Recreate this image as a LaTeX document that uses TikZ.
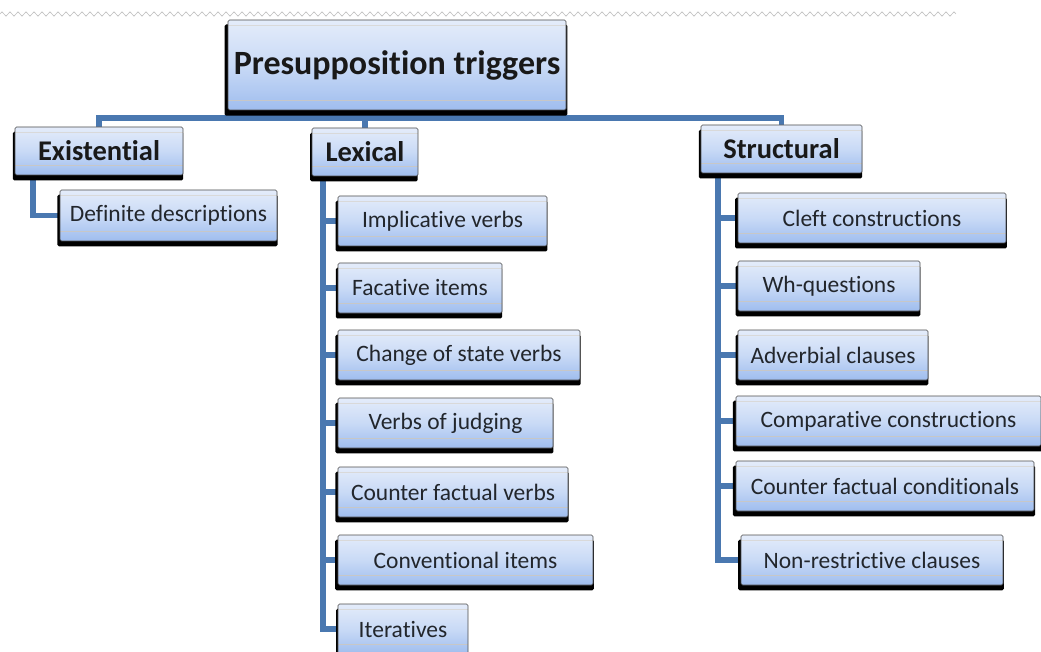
\documentclass[tikz,border=0pt]{standalone}
\usepackage{fontspec}
\setmainfont{Carlito}[Ligatures=NoCommon]
\usetikzlibrary{shadows,decorations.pathmorphing,backgrounds}
\definecolor{connc}{HTML}{4A78B0}
\definecolor{boxtop}{HTML}{E4ECFA}
\definecolor{boxmid}{HTML}{C9DAF6}
\definecolor{boxbot}{HTML}{9FBDEE}
\definecolor{txt}{HTML}{22262C}
\tikzset{
  box/.style={draw=black!70, line width=0.6pt, rounded corners=1.5pt, inner sep=0pt,
    top color=boxtop, bottom color=boxbot, middle color=boxmid,
    general shadow={shadow xshift=-1pt, shadow yshift=-5pt, shadow scale=1.014, fill=black},
    text=txt, font=\fontsize{23.5}{25}\selectfont,
    path picture={
      \draw[white!70!gray, line width=0.5pt] ([yshift=-5pt]path picture bounding box.north west) -- ([yshift=-5pt]path picture bounding box.north east);
      \draw[black!22, line width=0.5pt] ([yshift=10pt]path picture bounding box.south west) -- ([yshift=10pt]path picture bounding box.south east);
    }},
  catbox/.style={box, font=\bfseries\fontsize{28.5}{30}\selectfont, text=black!90},
  titlebox/.style={box, font=\bfseries\fontsize{34}{36}\selectfont, text=black!90},
  conn/.style={draw=connc, line width=5.5pt, line join=miter},
  zig/.style={draw=black!25, line width=0.6pt, decorate, decoration={zigzag, segment length=8pt, amplitude=2.2pt}}
}
\begin{document}
\begin{tikzpicture}[x=1pt,y=-1pt]
\useasboundingbox (0,0) rectangle (1041,652);
\coordinate (zigL) at (0,14);
\coordinate (zigR) at (956,14);
\draw[zig] (zigL) -- (zigR);
% nodes
\node[titlebox, minimum width=338pt, minimum height=90pt] (title) at (397,65) {Presupposition triggers};
\node[catbox, minimum width=168pt, minimum height=48pt] (exi) at (99,151) {Existential};
\node[catbox, minimum width=106pt, minimum height=48pt] (lex) at (365,152) {Lexical};
\node[catbox, minimum width=161pt, minimum height=48pt] (str) at (781.5,149) {Structural};
\node[box, minimum width=217pt, minimum height=51pt] (def) at (168.5,215.5) {Definite descriptions};
% lexical
\node[box, minimum width=209pt, minimum height=50pt] (imp) at (442.5,221) {Implicative verbs};
\node[box, minimum width=164pt, minimum height=50pt] (fac) at (420,288) {Facative items};
\node[box, minimum width=242pt, minimum height=50pt] (chg) at (459,355) {Change of state verbs};
\node[box, minimum width=215pt, minimum height=50pt] (jud) at (445.5,423) {Verbs of judging};
\node[box, minimum width=230pt, minimum height=50pt] (cfv) at (453,492) {Counter factual verbs};
\node[box, minimum width=255pt, minimum height=50pt] (con) at (465.5,560) {Conventional items};
\node[box, minimum width=130pt, minimum height=50pt] (itr) at (403,629) {Iteratives};
% structural
\node[box, minimum width=268pt, minimum height=50pt] (cle) at (872,218) {Cleft constructions};
\node[box, minimum width=182pt, minimum height=50pt] (wh) at (829,286) {Wh-questions};
\node[box, minimum width=190pt, minimum height=50pt] (adv) at (833,355) {Adverbial clauses};
\node[box, minimum width=305pt, minimum height=50pt] (cmp) at (888.5,421) {Comparative constructions};
\node[box, minimum width=298pt, minimum height=50pt] (cfc) at (885,486) {Counter factual conditionals};
\node[box, minimum width=262pt, minimum height=50pt] (non) at (872,560) {Non-restrictive clauses};
% connectors (behind)
\coordinate (bus) at (398,118);
\coordinate (exsp) at (33,0);
\coordinate (lxsp) at (323,0);
\coordinate (stsp) at (718,0);
\begin{pgfonlayer}{background}
\draw[conn] (title.south) -- (bus);
\draw[conn] (exi.north) |- (bus) -| (str.north);
\draw[conn] (bus -| lex.north) -- (lex.north);
\draw[conn] (exi.south -| exsp) |- (def.west);
\draw[conn] (lex.south -| lxsp) |- (itr.west);
\foreach \n in {imp,fac,chg,jud,cfv,con}{\draw[conn] (\n.west -| lxsp) -- (\n.west);}
\draw[conn] (str.south -| stsp) |- (non.west);
\foreach \n in {cle,wh,adv,cmp,cfc}{\draw[conn] (\n.west -| stsp) -- (\n.west);}
\end{pgfonlayer}
\end{tikzpicture}
\end{document}
